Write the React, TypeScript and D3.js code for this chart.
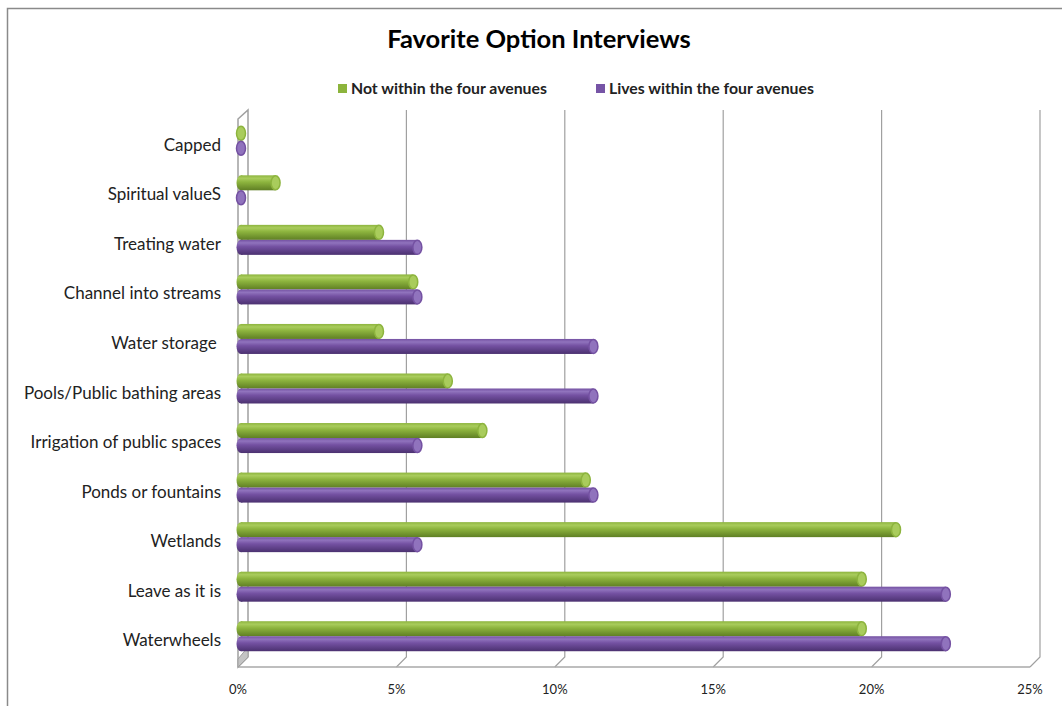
import React from "react";
import * as d3 from "d3";

const categories = [
  "Capped",
  "Spiritual valueS",
  "Treating water",
  "Channel into streams",
  "Water storage ",
  "Pools/Public bathing areas",
  "Irrigation of public spaces",
  "Ponds or fountains",
  "Wetlands",
  "Leave as it is",
  "Waterwheels",
];
const notWithin = [0, 0.0109, 0.0435, 0.0543, 0.0435, 0.0652, 0.0761, 0.1087, 0.2065, 0.1957, 0.1957];
const livesWithin = [0, 0, 0.0556, 0.0556, 0.1111, 0.1111, 0.0556, 0.1111, 0.0556, 0.2222, 0.2222];
const tickValues = [0, 0.05, 0.1, 0.15, 0.2, 0.25];
const seriesNames = ["Not within the four avenues", "Lives within the four avenues"];

const W = 1062;
const H = 706;
const FONT = "Lato, 'Open Sans', sans-serif";

export default function App() {
  const xBack = d3.scaleLinear().domain([0, 0.25]).range([248, 1040]);
  const xFront = d3.scaleLinear().domain([0, 0.25]).range([238, 1030]);
  const xBar = d3.scaleLinear().domain([0, 0.25]).range([241, 1034]);
  const y = d3.scaleBand<string>().domain(categories).range([120, 665]);
  const backTop = 110;
  const backBottom = 657;
  const frontBottom = 667;
  const frontTop = 119;
  const barH = 15;
  const fmt = d3.format(".0%");

  const series = [
    { name: seriesNames[0], values: notWithin, id: "g", light: "#a9cc5c", mid: "#8db43e", dark: "#5f7f24", legend: "#8cb43c", off: -barH },
    { name: seriesNames[1], values: livesWithin, id: "p", light: "#9073bd", mid: "#7451a2", dark: "#4b3170", legend: "#7654a6", off: 0 },
  ];

  return (
    <svg width={W} height={H} style={{ position: "absolute", left: 0, top: 0, background: "#fff" }}>
      <defs>
        {series.map((s) => (
          <linearGradient key={s.id} id={`grad-${s.id}`} x1="0" y1="0" x2="0" y2="1">
            <stop offset="0%" stopColor={s.mid} />
            <stop offset="20%" stopColor={s.light} />
            <stop offset="45%" stopColor={s.mid} />
            <stop offset="100%" stopColor={s.dark} />
          </linearGradient>
        ))}
      </defs>
      {/* chart border */}
      <path d={`M7.5,${H} V8.5 H${W}`} fill="none" stroke="#8a8a8a" strokeWidth={1.5} />

      {/* title */}
      <text x={539} y={48} textAnchor="middle" fontFamily={FONT} fontWeight="bold" fontSize={25.5} fill="#000">
        Favorite Option Interviews
      </text>

      {/* legend */}
      {series.map((s, i) => {
        const lx = i === 0 ? 338 : 596;
        return (
          <g key={s.id}>
            <rect x={lx} y={84} width={9} height={9} fill={s.legend} />
            <text x={lx + 13} y={94} fontFamily={FONT} fontWeight="bold" fontSize={15.8} fill="#222">
              {s.name}
            </text>
          </g>
        );
      })}

      {/* back wall gridlines + floor diagonals */}
      {tickValues.slice(1).map((t) => (
        <path
          key={t}
          d={`M${xBack(t)},${backTop} V${backBottom} L${xFront(t)},${frontBottom}`}
          fill="none"
          stroke="#a0a0a0"
          strokeWidth={1.2}
        />
      ))}
      {/* floor front edge */}
      <line x1={xFront(0)} x2={xFront(0.25)} y1={frontBottom} y2={frontBottom} stroke="#a8a8a8" strokeWidth={1.5} />
      {/* left side wall */}
      <path
        d={`M${xFront(0)},${frontTop} L${xBack(0)},${backTop} V${backBottom} L${xFront(0)},${frontBottom} Z`}
        fill="#fff"
        stroke="#a0a0a0"
        strokeWidth={1.5}
      />
      <path
        d={`M${xFront(0)},${frontBottom - 8} L${xBack(0)},${backBottom - 10} V${backBottom} L${xFront(0)},${frontBottom} Z`}
        fill="#c4c4c4"
        stroke="#a0a0a0"
        strokeWidth={1}
      />

      {/* bars */}
      {categories.map((c, ci) => {
        const cy = (y(c) as number) + y.bandwidth() / 2 - 4;
        return (
          <g key={c}>
            {series.map((s) => {
              const v = s.values[ci];
              const top = cy + s.off;
              const x0 = xBar(0);
              const x1 = xBar(v);
              const rx = 4.5;
              return (
                <g key={s.id}>
                  {x1 - x0 > 0.5 && (
                    <>
                      <ellipse cx={x0} cy={top + barH / 2} rx={rx} ry={barH / 2} fill={`url(#grad-${s.id})`} />
                      <rect x={x0} y={top} width={x1 - x0} height={barH} fill={`url(#grad-${s.id})`} />
                    </>
                  )}
                  <ellipse
                    cx={x1}
                    cy={top + barH / 2}
                    rx={rx}
                    ry={barH / 2 - 0.5}
                    fill={s.light}
                    stroke={s.mid}
                    strokeWidth={1.5}
                  />
                </g>
              );
            })}
          </g>
        );
      })}

      {/* category labels */}
      {categories.map((c) => (
        <text
          key={c}
          x={221}
          y={(y(c) as number) + y.bandwidth() / 2 + 6}
          textAnchor="end"
          fontFamily={FONT}
          fontSize={17}
          fill="#222"
          style={{ whiteSpace: "pre" }}
        >
          {c}
        </text>
      ))}

      {/* x tick labels */}
      {tickValues.map((t) => (
        <text key={t} x={xFront(t)} y={694} textAnchor="middle" fontFamily={FONT} fontSize={13} fill="#222">
          {fmt(t)}
        </text>
      ))}
    </svg>
  );
}
